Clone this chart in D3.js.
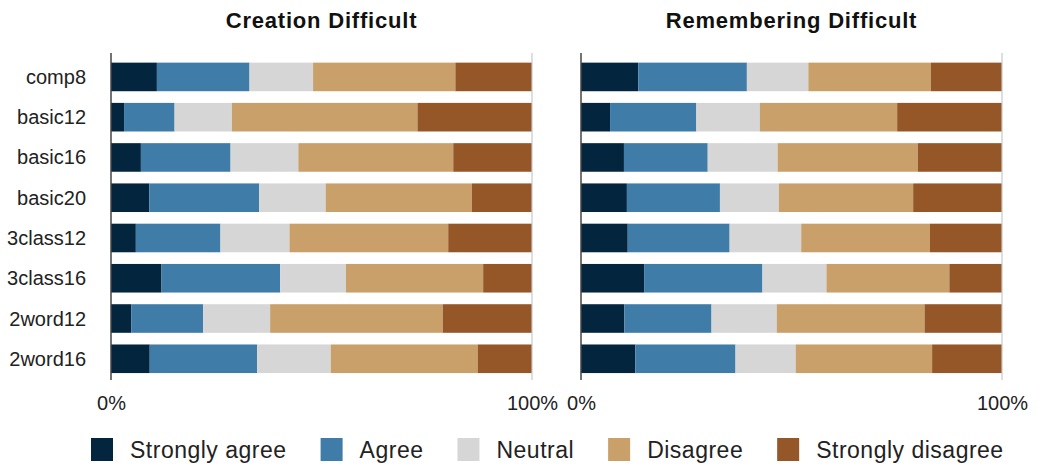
<!DOCTYPE html>
<html>
<head>
<meta charset="utf-8">
<script src="https://cdn.jsdelivr.net/npm/d3@7"></script>
<style>
  body { margin: 0; background: #fff; }
  svg { font-family: "Liberation Sans", Arial, sans-serif; }
</style>
</head>
<body>
<div id="chart"></div>
<script>
// categories (top to bottom)
var categories = ["comp8", "basic12", "basic16", "basic20", "3class12", "3class16", "2word12", "2word16"];
var responses = ["Strongly agree", "Agree", "Neutral", "Disagree", "Strongly disagree"];
var colors = ["#03263e", "#3f7ca8", "#d6d6d6", "#c9a06a", "#955628"];
var tickLabels = ["0%", "100%"];

// percent per category: [SA, A, N, D, SD]
var creationValues = [
  [10.9, 22.0, 15.1, 33.8, 18.2],
  [3.1, 12.0, 13.6, 44.1, 27.2],
  [7.1, 21.3, 16.1, 36.8, 18.7],
  [9.1, 26.1, 15.8, 34.7, 14.3],
  [5.9, 20.1, 16.4, 37.7, 19.9],
  [12.0, 28.2, 15.6, 32.6, 11.6],
  [4.8, 17.1, 15.9, 41.0, 21.2],
  [9.2, 25.5, 17.5, 34.9, 12.9]
];
var rememberValues = [
  [13.6, 25.8, 14.6, 29.1, 16.9],
  [6.9, 20.5, 15.1, 32.6, 24.9],
  [10.2, 19.9, 16.6, 33.3, 20.0],
  [10.9, 22.1, 14.0, 31.9, 21.1],
  [11.1, 24.2, 17.0, 30.6, 17.1],
  [15.0, 28.1, 15.2, 29.2, 12.5],
  [10.3, 20.7, 15.5, 35.1, 18.4],
  [12.9, 23.8, 14.3, 32.4, 16.6]
];

var W = 1037, H = 465;
var svg = d3.select("#chart").append("svg")
  .attr("width", W).attr("height", H);

var y = d3.scaleBand().domain(categories).range([56.8, 378.9]).paddingInner(0.29).paddingOuter(0.145);

function panel(values, title, x0, x1, showLabels) {
  var x = d3.scaleLinear().domain([0, 1]).range([x0, x1]);
  var g = svg.append("g");

  g.append("text")
    .attr("x", (x0 + x1) / 2)
    .attr("y", 28)
    .attr("text-anchor", "middle")
    .style("font-size", "22px")
    .style("font-weight", "bold")
    .style("letter-spacing", "0.8px")
    .attr("fill", "#111")
    .text(title);

  // stack rows
  var rows = values.map(function(v, i) {
    var obj = { name: categories[i] };
    var total = d3.sum(v);
    responses.forEach(function(r, j) { obj[r] = v[j] / total; });
    return obj;
  });
  var series = d3.stack().keys(responses)(rows);

  g.selectAll(".layer")
    .data(series)
    .enter().append("g")
    .attr("fill", function(d, i) { return colors[i]; })
    .selectAll("rect")
    .data(function(d) { return d; })
    .enter().append("rect")
    .attr("x", function(d) { return x(d[0]); })
    .attr("y", function(d) { return y(d.data.name); })
    .attr("width", function(d) { return x(d[1]) - x(d[0]); })
    .attr("height", y.bandwidth());

  // 100% line and 0% line
  g.append("line")
    .attr("x1", x(1)).attr("x2", x(1))
    .attr("y1", 53).attr("y2", 380)
    .attr("stroke", "#c8c8c8").attr("stroke-width", 1.2);
  g.append("line")
    .attr("x1", x(0)).attr("x2", x(0))
    .attr("y1", 53).attr("y2", 380)
    .attr("stroke", "#444").attr("stroke-width", 1.5);

  var ax = g.append("g")
    .attr("transform", "translate(0,380)")
    .call(d3.axisBottom(x).tickValues([0, 1]).tickSize(0).tickPadding(16)
      .tickFormat(function(d, i) { return tickLabels[i]; }));
  ax.select(".domain").remove();
  ax.selectAll("text")
    .style("font-size", "20px")
    .style("font-family", "Liberation Sans, Arial, sans-serif")
    .attr("fill", "#222");

  if (showLabels) {
    g.selectAll(".cat")
      .data(categories)
      .enter().append("text")
      .attr("x", 86)
      .attr("y", function(d) { return y(d) + y.bandwidth() / 2; })
      .attr("dy", "0.35em")
      .attr("text-anchor", "end")
      .style("font-size", "20px")
      .attr("fill", "#222")
      .text(function(d) { return d; });
  }
}

panel(creationValues, "Creation Difficult", 111, 532, true);
panel(rememberValues, "Remembering Difficult", 581, 1002, false);

// legend
var legend = svg.append("g");
var lx = 91;
responses.forEach(function(r, i) {
  legend.append("rect")
    .attr("x", lx).attr("y", 438)
    .attr("width", 22).attr("height", 23)
    .attr("fill", colors[i]);
  var t = legend.append("text")
    .attr("x", lx + 39).attr("y", 458)
    .style("font-size", "23px")
    .style("letter-spacing", "0.5px")
    .attr("fill", "#222")
    .text(r);
  lx += 39 + t.node().getComputedTextLength() + 34;
});
</script>
</body>
</html>
